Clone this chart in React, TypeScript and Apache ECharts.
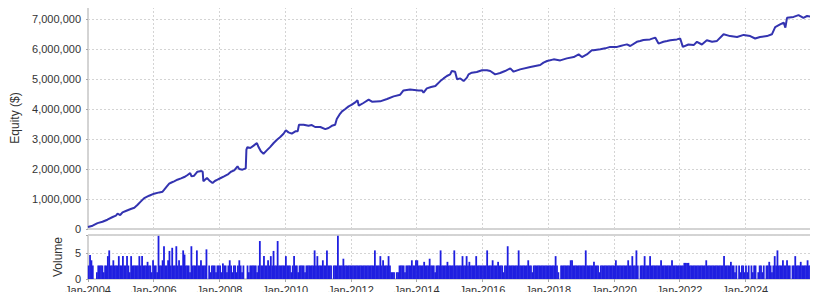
import React, { useEffect, useRef } from "react";
import * as echarts from "echarts";

// Equity curve, x as decimal years, y in thousands of dollars
const equityYears = [
  2004.0, 2004.14, 2004.29, 2004.44, 2004.59, 2004.75, 2004.85, 2004.9, 2004.98, 2005.05,
  2005.15, 2005.3, 2005.41, 2005.51, 2005.61, 2005.71, 2005.86, 2006.01, 2006.17, 2006.27,
  2006.32, 2006.4, 2006.47, 2006.54, 2006.62, 2006.72, 2006.83, 2006.93, 2007.03, 2007.11,
  2007.15, 2007.23, 2007.33, 2007.45, 2007.49, 2007.51, 2007.56, 2007.62, 2007.69, 2007.79,
  2007.86, 2007.94, 2008.04, 2008.14, 2008.27, 2008.35, 2008.45, 2008.55, 2008.6, 2008.7,
  2008.8, 2008.82, 2008.85, 2008.94, 2009.04, 2009.14, 2009.19, 2009.26, 2009.34, 2009.44,
  2009.54, 2009.65, 2009.75, 2009.85, 2009.95, 2010.02, 2010.1, 2010.2, 2010.31, 2010.38,
  2010.42, 2010.56, 2010.71, 2010.81, 2010.91, 2011.07, 2011.22, 2011.32, 2011.42, 2011.52,
  2011.57, 2011.65, 2011.73, 2011.83, 2011.93, 2012.03, 2012.13, 2012.2, 2012.24, 2012.38,
  2012.54, 2012.64, 2012.89, 2013.1, 2013.3, 2013.5, 2013.6, 2013.8, 2014.06, 2014.16,
  2014.21, 2014.31, 2014.44, 2014.57, 2014.72, 2014.82, 2014.92, 2015.02, 2015.07, 2015.17,
  2015.23, 2015.33, 2015.43, 2015.53, 2015.58, 2015.68, 2015.83, 2015.99, 2016.14, 2016.24,
  2016.39, 2016.54, 2016.69, 2016.85, 2016.95, 2017.15, 2017.46, 2017.76, 2017.86, 2017.97,
  2018.17, 2018.37, 2018.57, 2018.78, 2018.93, 2019.03, 2019.18, 2019.33, 2019.38, 2019.59,
  2019.74, 2019.89, 2020.1, 2020.2, 2020.3, 2020.4, 2020.5, 2020.7, 2020.8, 2020.9,
  2021.1, 2021.26, 2021.36, 2021.51, 2021.62, 2021.72, 2021.92, 2022.02, 2022.1, 2022.27,
  2022.43, 2022.53, 2022.68, 2022.83, 2022.99, 2023.14, 2023.34, 2023.54, 2023.75, 2023.95,
  2024.15, 2024.3, 2024.45, 2024.66, 2024.81, 2024.91, 2025.06, 2025.17, 2025.22, 2025.27,
  2025.47, 2025.62, 2025.77, 2025.88, 2025.98,
];

const equityThousands = [
  66, 110, 197, 243, 310, 400, 444, 510, 466, 555,
  600, 666, 710, 810, 920, 1030, 1110, 1177, 1220, 1244,
  1310, 1420, 1510, 1550, 1590, 1643, 1688, 1732, 1800, 1866,
  1755, 1777, 1910, 1932, 1910, 1590, 1643, 1700, 1620, 1530,
  1600, 1643, 1700, 1755, 1832, 1910, 1955, 2088, 2000, 1977,
  2020, 2643, 2730, 2700, 2780, 2866, 2730, 2590, 2510, 2620,
  2730, 2866, 2977, 3066, 3177, 3290, 3220, 3177, 3255, 3255,
  3477, 3477, 3440, 3466, 3400, 3400, 3330, 3366, 3440, 3477,
  3666, 3810, 3920, 4000, 4088, 4144, 4220, 4288, 4110, 4200,
  4310, 4244, 4255, 4333, 4420, 4477, 4620, 4650, 4620, 4620,
  4543, 4688, 4733, 4766, 4930, 5020, 5100, 5155, 5266, 5244,
  4990, 5020, 4930, 5044, 5155, 5210, 5233, 5290, 5290, 5266,
  5155, 5200, 5266, 5355, 5244, 5320, 5400, 5466, 5544, 5600,
  5655, 5620, 5688, 5733, 5820, 5733, 5820, 5955, 5955, 5990,
  6022, 6070, 6070, 6100, 6130, 6155, 6100, 6240, 6266, 6300,
  6320, 6380, 6180, 6240, 6266, 6290, 6320, 6350, 6070, 6150,
  6130, 6240, 6150, 6290, 6240, 6270, 6490, 6430, 6400, 6470,
  6430, 6350, 6400, 6430, 6490, 6730, 6820, 6880, 6710, 7040,
  7070, 7130, 7040, 7100, 7080,
];

// Volume, 24 half-month slots per year starting Jan-2004
const volumeStartYear = 2004;
const volumeSlotsPerYear = 24;
const volumeValues = [
  // 2004
  2.6, 4.6, 3.6, 2.6, 0, 0, 1.3, 2.6, 2.6, 2.6, 2.6, 1.3, 2.6, 2.6, 4.4, 5.5, 2.6, 2.6, 3.6, 2.6, 2.6, 2.6, 4.4, 2.6,
  // 2005
  2.6, 4.4, 2.6, 2.6, 4.4, 2.6, 1.3, 4.4, 2.6, 2.6, 2.6, 2.6, 2.6, 4.4, 2.6, 4.4, 2.6, 2.6, 2.6, 3.3, 2.6, 2.6, 1.3, 3.6,
  // 2006
  2.6, 2.6, 1.3, 8.3, 2.6, 2.6, 3.6, 6.3, 2.6, 2.6, 3.6, 5.4, 2.6, 6.0, 2.6, 2.6, 6.3, 2.6, 3.6, 2.6, 2.6, 5.5, 4.7, 2.6,
  // 2007
  2.6, 2.6, 1.3, 6.3, 2.6, 2.6, 2.6, 5.5, 2.6, 2.6, 3.6, 2.6, 2.6, 2.6, 5.7, 0, 2.6, 1.3, 2.6, 2.6, 2.6, 1.3, 2.6, 2.6,
  // 2008
  2.6, 1.3, 3.0, 2.6, 2.6, 1.3, 2.6, 3.6, 2.6, 1.3, 2.6, 2.6, 1.3, 2.6, 3.6, 2.6, 1.3, 2.6, 0, 0, 2.6, 1.3, 2.6, 2.6,
  // 2009
  2.6, 2.6, 2.6, 1.3, 2.6, 7.3, 2.6, 2.6, 4.4, 2.6, 2.6, 3.6, 2.6, 4.4, 2.6, 5.4, 2.6, 2.6, 7.3, 2.6, 2.6, 2.6, 2.6, 2.6,
  // 2010
  4.4, 2.6, 2.6, 2.6, 1.3, 2.6, 4.4, 2.6, 2.6, 1.3, 2.6, 2.6, 2.6, 2.6, 1.3, 2.6, 2.6, 2.6, 2.6, 2.6, 2.6, 5.5, 2.6, 4.4,
  // 2011
  2.6, 2.6, 2.6, 3.6, 2.6, 2.6, 5.5, 2.6, 2.6, 2.6, 0, 2.6, 2.6, 2.6, 8.3, 2.6, 2.6, 2.6, 3.9, 2.6, 2.6, 2.6, 2.6, 2.6,
  // 2012
  2.6, 2.6, 2.6, 2.6, 2.6, 2.6, 2.6, 2.6, 2.6, 2.6, 2.6, 2.6, 2.6, 2.6, 2.6, 2.6, 2.6, 5.5, 2.6, 2.6, 2.6, 4.4, 2.6, 3.6,
  // 2013
  2.6, 2.6, 2.6, 4.4, 2.6, 1.3, 1.3, 1.3, 0, 1.3, 1.3, 2.6, 2.6, 2.6, 2.6, 1.3, 2.6, 2.6, 2.6, 2.6, 3.6, 2.6, 2.6, 3.6,
  // 2014
  3.6, 2.6, 2.6, 2.6, 2.6, 3.3, 2.6, 2.6, 2.6, 3.9, 2.6, 2.6, 2.6, 1.3, 2.6, 2.6, 2.6, 5.5, 2.6, 2.6, 2.6, 2.6, 3.3, 2.6,
  // 2015
  2.6, 2.6, 2.6, 5.5, 2.6, 2.6, 2.6, 2.6, 2.6, 4.4, 2.6, 2.6, 4.4, 2.6, 3.3, 2.6, 2.6, 2.6, 2.6, 4.4, 2.6, 2.6, 2.6, 2.6,
  // 2016
  2.6, 2.6, 2.6, 5.5, 2.6, 2.6, 2.6, 3.6, 2.6, 2.6, 2.6, 3.3, 2.6, 2.6, 2.6, 1.3, 2.6, 2.6, 6.3, 2.6, 2.6, 2.6, 2.6, 2.6,
  // 2017
  2.6, 2.6, 5.5, 2.6, 2.6, 2.6, 2.6, 2.6, 2.6, 3.6, 2.6, 2.6, 1.3, 2.6, 2.6, 2.6, 2.6, 2.6, 2.6, 2.6, 2.6, 2.6, 2.6, 2.6,
  // 2018
  2.6, 2.6, 2.6, 2.6, 2.6, 4.4, 2.6, 1.3, 0, 2.6, 2.6, 2.6, 2.6, 2.6, 2.6, 2.6, 3.6, 3.6, 2.6, 2.6, 2.6, 2.6, 2.6, 2.6,
  // 2019
  2.6, 2.6, 2.6, 5.5, 2.6, 2.6, 2.6, 2.6, 2.6, 3.3, 2.6, 2.6, 2.6, 1.3, 2.6, 2.6, 2.6, 2.6, 2.6, 2.6, 2.6, 2.6, 2.6, 2.6,
  // 2020
  2.6, 3.6, 2.6, 2.6, 2.6, 2.6, 2.6, 2.6, 2.6, 2.6, 3.6, 2.6, 2.6, 4.4, 2.6, 2.6, 5.5, 2.6, 0, 2.6, 2.6, 2.6, 4.4, 2.6,
  // 2021
  2.6, 2.6, 4.4, 2.6, 2.6, 2.6, 2.6, 2.6, 2.6, 2.6, 3.6, 2.6, 2.6, 2.6, 2.6, 2.6, 2.6, 2.6, 3.6, 2.6, 2.6, 2.6, 2.6, 2.6,
  // 2022
  2.6, 2.6, 2.6, 3.1, 3.1, 3.1, 3.1, 2.6, 2.6, 2.6, 2.6, 2.6, 2.6, 2.6, 2.6, 2.6, 2.6, 2.6, 2.6, 3.6, 2.6, 2.6, 2.6, 2.6,
  // 2023
  2.6, 2.6, 2.6, 2.6, 2.6, 2.6, 2.6, 2.6, 4.4, 2.6, 2.6, 2.6, 2.6, 3.3, 2.6, 2.6, 1.3, 2.6, 0, 2.6, 1.3, 2.6, 2.6, 1.3,
  // 2024
  2.6, 1.3, 2.6, 0, 2.6, 1.3, 2.6, 2.6, 0, 1.3, 2.6, 2.6, 1.3, 2.6, 0, 2.6, 2.6, 3.3, 2.6, 1.3, 2.6, 4.4, 2.6, 5.5,
  // 2025
  2.6, 2.6, 2.6, 3.6, 2.6, 2.6, 3.6, 2.6, 2.6, 0, 2.6, 2.6, 4.4, 2.6, 2.6, 2.6, 3.3, 2.6, 2.6, 2.6, 2.6, 3.6, 2.6, 2.6,
];

const xMin = 2004;
const xMax = 2026;
const xTickStep = 2;
const equityMax = 7400000;
const equityStep = 1000000;
const volumeMax = 8.46;
const volumeStep = 5;

const FONT = "'Liberation Sans', Arial, sans-serif";
const TEXT = "#333333";
const BORDER = "#a8a8a8";
const GRIDLINE = "#d4d4d4";

export default function App() {
  const ref = useRef<HTMLDivElement>(null);
  useEffect(() => {
    if (!ref.current) return;
    const chart = echarts.init(ref.current, undefined, { renderer: "svg" });
    const equityData = equityYears.map((y, i) => [y, equityThousands[i] * 1000]);
    const volumeData = volumeValues.map((v, i) => [
      volumeStartYear + (i + 0.5) / volumeSlotsPerYear,
      v,
    ]);
    const splitLine = { show: true, lineStyle: { color: GRIDLINE, type: [2, 2], width: 1 } };
    chart.setOption({
      animation: false,
      backgroundColor: "#ffffff",
      textStyle: { fontFamily: FONT },
      grid: [
        { left: 88, top: 7, width: 723, height: 222, show: true, borderColor: BORDER, borderWidth: 1, backgroundColor: "#fff" },
        { left: 88, top: 235, width: 723, height: 44, show: true, borderColor: BORDER, borderWidth: 1, backgroundColor: "#fff" },
      ],
      xAxis: [
        {
          type: "value", gridIndex: 0, min: xMin, max: xMax, interval: xTickStep,
          axisLine: { show: false }, axisTick: { show: false }, axisLabel: { show: false },
          splitLine,
        },
        {
          type: "value", gridIndex: 1, min: xMin, max: xMax, interval: xTickStep,
          axisLine: { show: false },
          axisTick: { show: true, length: 3, lineStyle: { color: BORDER } },
          axisLabel: {
            show: true, color: TEXT, fontSize: 11, fontFamily: FONT, margin: 5,
            formatter: (v: number) => (v < xMax && v % 2 === 0 ? "Jan-" + v : ""),
          },
          splitLine,
        },
      ],
      yAxis: [
        {
          type: "value", gridIndex: 0, min: 0, max: equityMax, interval: equityStep,
          name: "Equity ($)", nameLocation: "middle", nameGap: 57, nameRotate: 90,
          nameTextStyle: { color: TEXT, fontSize: 12, fontFamily: FONT },
          axisLine: { show: false },
          axisTick: { show: true, length: 2, lineStyle: { color: BORDER } },
          axisLabel: {
            color: TEXT, fontSize: 11, fontFamily: FONT, margin: 7,
            formatter: (v: number) => (v % equityStep === 0 ? v.toLocaleString("en-US") : ""),
          },
          splitLine,
        },
        {
          type: "value", gridIndex: 1, min: 0, max: volumeMax, interval: volumeStep,
          name: "Volume", nameLocation: "middle", nameGap: 17, nameRotate: 90,
          nameTextStyle: { color: TEXT, fontSize: 12, fontFamily: FONT },
          axisLine: { show: false },
          axisTick: { show: true, length: 2, lineStyle: { color: BORDER } },
          axisLabel: {
            color: TEXT, fontSize: 11, fontFamily: FONT, margin: 7,
            formatter: (v: number) => (v % volumeStep === 0 ? String(v) : ""),
          },
          splitLine,
        },
      ],
      series: [
        {
          type: "line", xAxisIndex: 0, yAxisIndex: 0, data: equityData,
          showSymbol: false, symbol: "none",
          lineStyle: { color: "#3333b0", width: 2 },
          z: 3,
        },
        {
          type: "bar", xAxisIndex: 1, yAxisIndex: 1, data: volumeData,
          barWidth: 1.8, itemStyle: { color: "#1f1fe0" },
        },
      ],
    });
    return () => chart.dispose();
  }, []);
  return <div ref={ref} style={{ width: 818, height: 300, margin: -8 }} />;
}
